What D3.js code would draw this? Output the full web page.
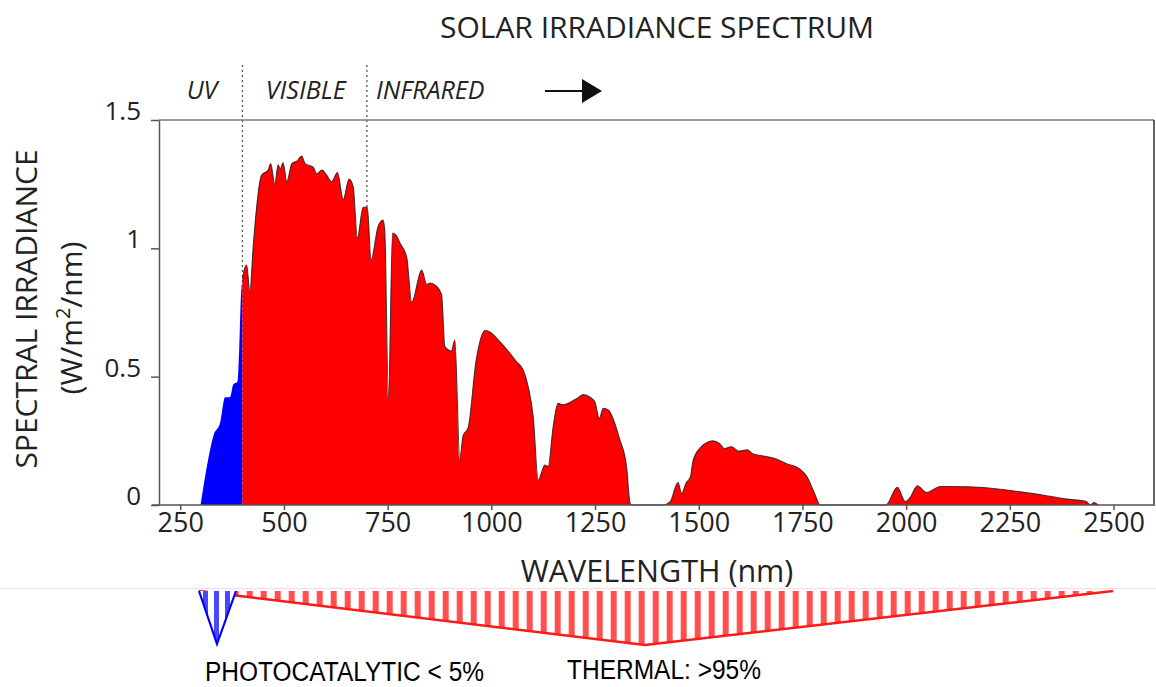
<!DOCTYPE html>
<html>
<head>
<meta charset="utf-8">
<title>Solar irradiance spectrum</title>
<script src="https://d3js.org/d3.v7.min.js"></script>
<style>
  body { margin: 0; background: #fff; }
  svg { display: block; }
  .axis text { font-family: "Open Sans", sans-serif; fill: #222; }
  .axis path, .axis line { stroke: #555; stroke-width: 1.5; }
</style>
</head>
<body>
<svg id="chart" width="1156" height="687"></svg>
<script>
// spectrum (nm, W/m2/nm)
const wavelength = [299, 320, 330, 346, 358, 370, 378, 388, 392, 396, 400, 405, 410, 418, 426, 446, 462, 468, 478, 486, 491, 498, 507, 519, 531, 543, 551, 571, 579, 592, 603, 615, 629, 643, 657, 667, 677, 691, 701, 710, 727, 739, 743, 752, 762, 771, 780, 796, 808, 832, 844, 852, 866, 880, 888, 904, 912, 924, 932, 944, 963, 985, 993, 1021, 1061, 1077, 1089, 1101, 1113, 1129, 1137, 1149, 1161, 1173, 1185, 1206, 1222, 1238, 1250, 1260, 1270, 1282, 1310, 1326, 1334, 1337, 1414, 1431, 1450, 1459, 1469, 1480, 1486, 1503, 1516, 1533, 1550, 1562, 1579, 1596, 1617, 1630, 1659, 1685, 1710, 1744, 1761, 1778, 1793, 1951, 1979, 1998, 2010, 2027, 2049, 2083, 2150, 2277, 2353, 2387, 2433, 2445, 2453, 2463];
const irradiance = [0, 0.20, 0.27, 0.32, 0.42, 0.42, 0.47, 0.48, 0.60, 0.80, 0.88, 0.92, 0.935, 0.83, 1.01, 1.285, 1.305, 1.33, 1.25, 1.325, 1.31, 1.333, 1.26, 1.33, 1.34, 1.36, 1.33, 1.315, 1.29, 1.305, 1.285, 1.26, 1.295, 1.19, 1.27, 1.24, 1.04, 1.16, 1.16, 0.955, 1.085, 1.11, 1.07, 0.42, 1.06, 1.05, 1.02, 0.965, 0.79, 0.915, 0.86, 0.865, 0.855, 0.82, 0.617, 0.60, 0.643, 0.18, 0.27, 0.30, 0.56, 0.68, 0.677, 0.636, 0.558, 0.525, 0.46, 0.344, 0.097, 0.156, 0.15, 0.305, 0.396, 0.39, 0.396, 0.415, 0.43, 0.42, 0.40, 0.337, 0.377, 0.37, 0.253, 0.15, 0.01, 0, 0, 0.013, 0.087, 0.045, 0.084, 0.11, 0.17, 0.222, 0.24, 0.25, 0.24, 0.22, 0.227, 0.21, 0.215, 0.20, 0.19, 0.18, 0.162, 0.14, 0.11, 0.05, 0, 0, 0.069, 0.013, 0.03, 0.075, 0.049, 0.072, 0.071, 0.051, 0.032, 0.023, 0.014, 0, 0.01, 0];

const xTicks = [250, 500, 750, 1000, 1250, 1500, 1750, 2000, 2250, 2500];
const yTicks = [0, 0.5, 1, 1.5];

// region borders (nm) and labels
const regionBorders = [400, 700];
const regionNames = ["UV", "VISIBLE", "INFRARED"];
const regionAt = [300, 550, 700];

const shares = ["PHOTOCATALYTIC < 5%", "THERMAL: >95%"];

const svg = d3.select("#chart");
const x = d3.scaleLinear().domain([200, 2600]).range([159.5, 1155]);
const y = d3.scaleLinear().domain([0, 1.5]).range([505, 120]);

const spec = wavelength.map((w, i) => ({w: w, v: irradiance[i]}));
const uvPart = spec.filter(d => d.w <= 400);
const restPart = spec.filter(d => d.w >= 400);

// title
svg.append("text")
  .attr("x", 657).attr("y", 38)
  .attr("text-anchor", "middle")
  .style("font-family", "Open Sans, sans-serif")
  .style("font-size", "30px")
  .attr("fill", "#222")
  .text("SOLAR IRRADIANCE SPECTRUM");

// dotted region lines (behind the area)
svg.selectAll(".border").data(regionBorders).enter()
  .append("line")
  .attr("x1", d => x(d)).attr("x2", d => x(d))
  .attr("y1", 65).attr("y2", 505)
  .attr("stroke", "#555").attr("stroke-width", 1.3)
  .attr("stroke-dasharray", "2,3");

svg.selectAll(".region").data(regionNames).enter()
  .append("text")
  .attr("x", (d, i) => i == 2 ? x(regionAt[i]) + 9 : x(regionAt[i]) + 1)
  .attr("y", 99)
  .attr("text-anchor", (d, i) => i == 2 ? "start" : "middle")
  .style("font-family", "Open Sans, sans-serif")
  .style("font-size", "25px")
  .style("font-style", "italic")
  .attr("fill", "#222")
  .text(d => d);

// arrow
svg.append("line").attr("x1", 545).attr("x2", 585).attr("y1", 91).attr("y2", 91)
  .attr("stroke", "#111").attr("stroke-width", 1.8);
svg.append("path").attr("d", "M582,79 L602,91 L582,103 Z").attr("fill", "#111");

// frame
svg.append("line").attr("x1", 159).attr("x2", 1154).attr("y1", 120).attr("y2", 120)
  .attr("stroke", "#777").attr("stroke-width", 1.5);
svg.append("line").attr("x1", 1154).attr("x2", 1154).attr("y1", 120).attr("y2", 505)
  .attr("stroke", "#333").attr("stroke-width", 1.5);

// areas
const area = d3.area().x(d => x(d.w)).y0(y(0)).y1(d => y(d.v)).curve(d3.curveMonotoneX);
const line = d3.line().x(d => x(d.w)).y(d => y(d.v)).curve(d3.curveMonotoneX);

svg.append("path").datum(uvPart).attr("d", area).attr("fill", "#0000ff");
svg.append("path").datum(restPart).attr("d", area).attr("fill", "#ff0000");
svg.append("path").datum(restPart).attr("d", line)
  .attr("fill", "none").attr("stroke", "#222").attr("stroke-width", 1.1).attr("stroke-opacity", 0.85);

// axes
const xAxis = svg.append("g").attr("class", "axis")
  .attr("transform", "translate(0,505)")
  .call(d3.axisBottom(x).tickValues(xTicks).tickSize(5).tickSizeOuter(0).tickPadding(3)
    .tickFormat(d3.format("d")));
xAxis.select(".domain").attr("d", "M152,0H1155");
xAxis.selectAll("text").style("font-size", "27px");

const yAxis = svg.append("g").attr("class", "axis")
  .attr("transform", "translate(159,0)")
  .call(d3.axisLeft(y).tickValues(yTicks).tickSize(8).tickSizeOuter(0).tickPadding(10)
    .tickFormat(d3.format("")));
yAxis.selectAll("text").attr("dy", "-0.02em").style("font-size", "26px");

// axis titles
svg.append("text")
  .attr("x", 657).attr("y", 582)
  .attr("text-anchor", "middle")
  .style("font-family", "Open Sans, sans-serif")
  .style("font-size", "30.5px")
  .attr("fill", "#222")
  .text("WAVELENGTH (nm)");

const yt = svg.append("text")
  .attr("transform", "translate(37,309) rotate(-90)")
  .attr("text-anchor", "middle")
  .style("font-family", "Open Sans, sans-serif")
  .style("font-size", "30px")
  .attr("fill", "#222");
yt.append("tspan").attr("x", 0).attr("y", 0).text("SPECTRAL IRRADIANCE");
const yt2 = yt.append("tspan").attr("x", -9).attr("y", 0).attr("dy", 45);
yt2.append("tspan").text("(W/m");
yt2.append("tspan").attr("dy", -12).style("font-size", "20px").text("2");
yt2.append("tspan").attr("dy", 12).text("/nm)");

// bottom: split line and striped triangles
svg.append("line").attr("x1", 0).attr("x2", 1156).attr("y1", 588.5).attr("y2", 588.5)
  .attr("stroke", "#e4e4e4").attr("stroke-width", 1);

const defs = svg.append("defs");
const redPat = defs.append("pattern").attr("id", "redStripes")
  .attr("patternUnits", "userSpaceOnUse").attr("width", 14).attr("height", 100)
  .attr("patternTransform", "translate(8.7,0)");
redPat.append("rect").attr("x", 0).attr("y", 0).attr("width", 6).attr("height", 100).attr("fill", "#ff5050");
const bluePat = defs.append("pattern").attr("id", "blueStripes")
  .attr("patternUnits", "userSpaceOnUse").attr("width", 11).attr("height", 100)
  .attr("patternTransform", "translate(203,0)");
bluePat.append("rect").attr("x", 0).attr("y", 0).attr("width", 5).attr("height", 100).attr("fill", "#4848ff");

const redTri = [[199, 591], [645, 645], [1113, 591]];
const blueTri = [[199, 591], [217, 644], [236, 591]];

svg.append("path").attr("d", "M" + redTri.join("L") + "Z").attr("fill", "url(#redStripes)");
svg.append("path").attr("d", "M" + redTri.join("L")).attr("fill", "none")
  .attr("stroke", "#ff1a1a").attr("stroke-width", 2.5);
svg.append("path").attr("d", "M" + blueTri.join("L") + "Z").attr("fill", "#fff");
svg.append("path").attr("d", "M" + blueTri.join("L") + "Z").attr("fill", "url(#blueStripes)");
svg.append("path").attr("d", "M" + blueTri.join("L")).attr("fill", "none")
  .attr("stroke", "#0000ff").attr("stroke-width", 2.2);

svg.selectAll(".share").data(shares).enter()
  .append("text")
  .attr("x", (d, i) => i == 0 ? 205 : 567)
  .attr("y", (d, i) => i == 0 ? 681 : 679)
  .attr("textLength", (d, i) => i == 0 ? 279 : 194)
  .attr("lengthAdjust", "spacingAndGlyphs")
  .style("font-family", "Liberation Sans Narrow, Arial Narrow, Liberation Sans, sans-serif")
  .style("font-size", "27px")
  .attr("fill", "#000")
  .text(d => d);
</script>
</body>
</html>
